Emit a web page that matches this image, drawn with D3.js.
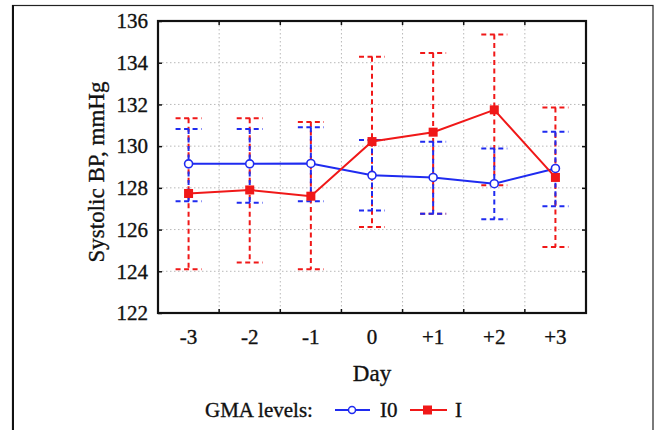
<!DOCTYPE html>
<html>
<head>
<meta charset="utf-8">
<script src="https://cdn.jsdelivr.net/npm/d3@7"></script>
<style>
  body { margin: 0; background: #fff; }
  svg { display: block; }
  text { font-family: "Liberation Serif", "DejaVu Serif", serif; fill: #111; stroke: #111; stroke-width: 0.35px; }
</style>
</head>
<body>
<svg id="chart" width="660" height="430"></svg>
<script>
// data
const days = ['-3', '-2', '-1', '0', '+1', '+2', '+3'];
const yTicks = [122, 124, 126, 128, 130, 132, 134, 136];

const i0Mean  = [129.15, 129.15, 129.17, 128.6, 128.5, 128.2, 128.93];
const i0Upper = [130.82, 130.82, 130.9, 130.3, 130.21, 129.89, 130.69];
const i0Lower = [127.36, 127.28, 127.36, 126.92, 126.76, 126.49, 127.12];

const iMean  = [127.73, 127.9, 127.6, 130.22, 130.67, 131.74, 128.5];
const iUpper = [131.34, 131.34, 131.16, 134.28, 134.47, 135.35, 131.85];
const iLower = [124.1, 124.42, 124.1, 126.12, 126.76, 128.13, 125.16];

const BLUE = '#1f2bf0', RED = '#f01818';

const svg = d3.select('#chart');
const m = {left: 158, right: 586, top: 21, bottom: 313};

const x = d3.scaleBand().domain(days).range([m.left, m.right]);
const y = d3.scaleLinear().domain([122, 136]).range([m.bottom, m.top]);
const cx = d => x(d) + x.bandwidth() / 2;

// outer frame
svg.append('rect').attr('x', 12.5).attr('y', 5.5).attr('width', 640.5).attr('height', 440)
    .attr('fill', 'none').attr('stroke', '#222').attr('stroke-width', 1.2);
svg.append('line').attr('x1', 13).attr('x2', 13).attr('y1', 5).attr('y2', 430)
    .attr('stroke', '#111').attr('stroke-width', 2);

// grid
const bounds = days.slice(1).map(d => x(d));
const grid = svg.append('g').attr('stroke', '#b8b8b8').attr('stroke-width', 1).attr('stroke-dasharray', '1.5,2.5');
grid.selectAll('.gy').data(yTicks.slice(1, -1)).join('line')
    .attr('x1', m.left).attr('x2', m.right).attr('y1', d => y(d)).attr('y2', d => y(d));
grid.selectAll('.gx').data(bounds).join('line')
    .attr('x1', d => d).attr('x2', d => d).attr('y1', m.top).attr('y2', m.bottom);

// axes
svg.append('g').attr('transform', `translate(${m.left},0)`)
    .call(d3.axisLeft(y).tickValues(yTicks).tickSize(-4).tickPadding(10).tickFormat(d3.format('d')));
svg.append('g').attr('transform', `translate(${m.right},0)`)
    .call(d3.axisRight(y).tickValues(yTicks.slice(1, -1)).tickSize(-4).tickFormat(''));
svg.append('g').attr('transform', `translate(0,${m.bottom})`)
    .call(d3.axisBottom(x).tickSize(0).tickPadding(16));
svg.selectAll('.domain').remove();
svg.selectAll('.tick line').attr('stroke', '#111').attr('stroke-width', 1.5);
svg.selectAll('.tick text').style('font-family', '"Liberation Serif", serif').style('font-size', '21px').attr('fill', '#111');

// x boundary ticks top and bottom
svg.append('g').selectAll('line').data(bounds).join('line')
    .attr('x1', d => d).attr('x2', d => d).attr('y1', m.bottom).attr('y2', m.bottom - 4)
    .attr('stroke', '#111').attr('stroke-width', 1.5);
svg.append('g').selectAll('line').data(bounds).join('line')
    .attr('x1', d => d).attr('x2', d => d).attr('y1', m.top).attr('y2', m.top + 4)
    .attr('stroke', '#111').attr('stroke-width', 1.5);

// plot frame
svg.append('rect').attr('x', m.left).attr('y', m.top)
    .attr('width', m.right - m.left).attr('height', m.bottom - m.top)
    .attr('fill', 'none').attr('stroke', '#111').attr('stroke-width', 2.2);

// error bars
function errorBars(lower, upper, color) {
  const g = svg.append('g').attr('stroke', color).attr('stroke-width', 2)
      .attr('stroke-dasharray', '5,3.5').attr('fill', 'none');
  days.forEach((d, i) => {
    g.append('line').attr('x1', cx(d)).attr('x2', cx(d)).attr('y1', y(upper[i])).attr('y2', y(lower[i]));
    [upper[i], lower[i]].forEach(v => {
      g.append('line').attr('x1', cx(d) - 13).attr('x2', cx(d) + 13).attr('y1', y(v)).attr('y2', y(v));
    });
  });
}
errorBars(iLower, iUpper, RED);
errorBars(i0Lower, i0Upper, BLUE);

// lines
const line = d3.line().x((v, i) => cx(days[i])).y(v => y(v));
svg.append('path').datum(i0Mean).attr('d', line).attr('fill', 'none').attr('stroke', BLUE).attr('stroke-width', 2);
svg.append('path').datum(iMean).attr('d', line).attr('fill', 'none').attr('stroke', RED).attr('stroke-width', 2);

// markers
svg.append('g').selectAll('rect').data(iMean).join('rect')
    .attr('x', (v, i) => cx(days[i]) - 4.5).attr('y', v => y(v) - 4.5)
    .attr('width', 9).attr('height', 9).attr('fill', RED);
svg.append('g').selectAll('circle').data(i0Mean).join('circle')
    .attr('cx', (v, i) => cx(days[i])).attr('cy', v => y(v)).attr('r', 4)
    .attr('fill', '#fff').attr('stroke', BLUE).attr('stroke-width', 1.6);

// axis titles
svg.append('text').attr('x', cx('0')).attr('y', 381).attr('text-anchor', 'middle')
    .style('font-size', '23px').text('Day');
svg.append('text').attr('transform', `translate(104,${(m.top + m.bottom) / 2 + 5}) rotate(-90)`)
    .attr('text-anchor', 'middle').style('font-size', '23px').text('Systolic BP, mmHg');

// legend
const lg = svg.append('g');
lg.append('text').attr('x', 205).attr('y', 417).style('font-size', '21px').text('GMA levels:');
lg.append('line').attr('x1', 335).attr('x2', 370).attr('y1', 410).attr('y2', 410).attr('stroke', BLUE).attr('stroke-width', 2);
lg.append('circle').attr('cx', 352).attr('cy', 410).attr('r', 3.5).attr('fill', '#fff').attr('stroke', BLUE).attr('stroke-width', 1.5);
lg.append('text').attr('x', 380).attr('y', 417).style('font-size', '21px').text('I0');
lg.append('line').attr('x1', 410).attr('x2', 447).attr('y1', 410).attr('y2', 410).attr('stroke', RED).attr('stroke-width', 2);
lg.append('rect').attr('x', 423).attr('y', 405.5).attr('width', 9).attr('height', 9).attr('fill', RED);
lg.append('text').attr('x', 455).attr('y', 417).style('font-size', '21px').text('I');
</script>
</body>
</html>
